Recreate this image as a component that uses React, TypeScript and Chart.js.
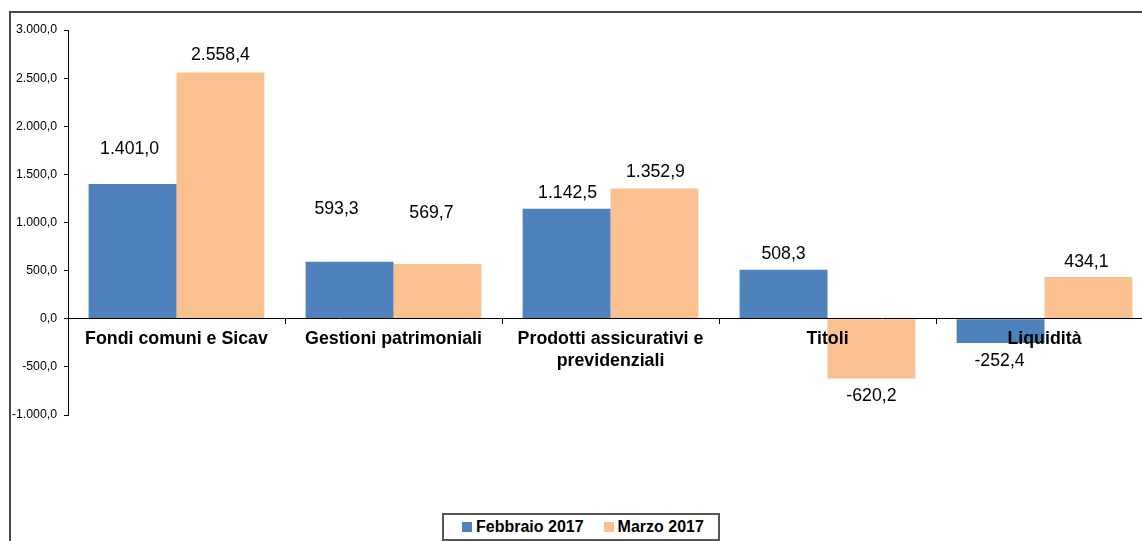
import React, { useEffect, useRef } from "react";
import { Chart, registerables } from "chart.js";

Chart.register(...registerables);

const FONT = '"Liberation Sans", Arial, Helvetica, sans-serif';

const categories: (string | string[])[] = [
  "Fondi comuni e Sicav",
  "Gestioni patrimoniali",
  ["Prodotti assicurativi e", "previdenziali"],
  "Titoli",
  "Liquidità",
];
const seriesNames = ["Febbraio 2017", "Marzo 2017"];
const febValues = [1401.0, 593.3, 1142.5, 508.3, -252.4];
const marValues = [2558.4, 569.7, 1352.9, -620.2, 434.1];
const seriesColors = ["#4F81BD", "#FAC090"];
const yMin = -1000;
const yMax = 3000;
const yStep = 500;

// small pixel nudges of each value label relative to the end of its bar [dx, dy]
const febLabelNudge = [
  [-3, -35],
  [-13, -53],
  [1, -16],
  [0, -16],
  [-1, 18],
];
const marLabelNudge = [
  [0, -17],
  [-6, -51],
  [1, -16.5],
  [0, 18],
  [-2, -15],
];

function fmt(v: number): string {
  const neg = v < 0;
  const fixed = Math.abs(v).toFixed(1);
  const [intPart, dec] = fixed.split(".");
  const grouped = intPart.replace(/\B(?=(\d{3})+(?!\d))/g, ".");
  return (neg ? "-" : "") + grouped + "," + dec;
}

const valueLabels = {
  id: "valueLabels",
  afterDatasetsDraw(chart: any) {
    const ctx = chart.ctx;
    ctx.save();
    ctx.font = `17.7px ${FONT}`;
    ctx.fillStyle = "#000";
    ctx.textAlign = "center";
    ctx.textBaseline = "middle";
    chart.data.datasets.forEach((ds: any, di: number) => {
      const meta = chart.getDatasetMeta(di);
      const nudges = di === 0 ? febLabelNudge : marLabelNudge;
      meta.data.forEach((el: any, i: number) => {
        const [dx, dy] = nudges[i];
        ctx.fillText(fmt(ds.data[i]), el.x + dx, el.y + dy);
      });
    });
    ctx.restore();
  },
};

export default function App() {
  const canvasRef = useRef<HTMLCanvasElement | null>(null);

  useEffect(() => {
    if (!canvasRef.current) return;
    const chart = new Chart(canvasRef.current, {
      type: "bar",
      data: {
        labels: categories,
        datasets: [
          {
            label: seriesNames[0],
            data: febValues,
            backgroundColor: seriesColors[0],
            borderWidth: 0,
            barPercentage: 1,
            categoryPercentage: 0.81,
          },
          {
            label: seriesNames[1],
            data: marValues,
            backgroundColor: seriesColors[1],
            borderWidth: 0,
            barPercentage: 1,
            categoryPercentage: 0.81,
          },
        ],
      },
      options: {
        responsive: false,
        animation: false,
        devicePixelRatio: 1,
        layout: { padding: { top: 30, right: 9, bottom: 126, left: 0 } },
        plugins: {
          legend: { display: false },
          tooltip: { enabled: false },
        },
        scales: {
          x: {
            type: "category",
            position: { y: 0 } as any,
            offset: true,
            grid: {
              offset: true,
              drawOnChartArea: false,
              drawTicks: true,
              tickLength: 5,
              color: "#000",
              lineWidth: 1,
              z: 1,
            },
            border: { display: true, color: "#000", width: 1, z: 1 },
            ticks: {
              z: 2,
              color: "#000",
              font: { family: FONT, size: 17.8, weight: "bold", lineHeight: 1.2 },
              padding: 5,
              autoSkip: false,
              maxRotation: 0,
              minRotation: 0,
            },
            afterFit: (s: any) => {
              s.height = 0;
            },
          },
          y: {
            min: yMin,
            max: yMax,
            position: "left",
            grid: {
              drawOnChartArea: false,
              drawTicks: true,
              tickLength: 4,
              color: "#000",
            },
            border: { display: true, color: "#000", width: 1 },
            ticks: {
              stepSize: yStep,
              color: "#000",
              font: { family: FONT, size: 12.3 },
              padding: 7,
              callback: (v: any) => fmt(Number(v)),
            },
            afterFit: (s: any) => {
              s.width = 68;
            },
          },
        },
      } as any,
      plugins: [valueLabels],
    });
    return () => chart.destroy();
  }, []);

  return (
    <div
      style={{
        position: "fixed",
        left: 0,
        top: 0,
        width: 1142,
        height: 541,
        overflow: "hidden",
        background: "#fff",
      }}
    >
      <div
        style={{
          position: "absolute",
          left: 9,
          top: 11,
          width: 1300,
          height: 700,
          borderTop: "2px solid #4a4a4a",
          borderLeft: "2px solid #4a4a4a",
          boxSizing: "border-box",
        }}
      />
      <canvas
        ref={canvasRef}
        width={1162}
        height={541}
        style={{ position: "absolute", left: 0, top: 0, width: 1162, height: 541 }}
      />
      <div
        style={{
          position: "absolute",
          left: 442,
          top: 513,
          width: 278,
          height: 28,
          boxSizing: "border-box",
          border: "2px solid #555",
          background: "#fff",
          display: "flex",
          alignItems: "center",
          paddingLeft: 18,
          fontFamily: FONT,
          fontWeight: "bold",
          fontSize: 16,
          color: "#000",
        }}
      >
        {seriesNames.map((name, i) => (
          <div
            key={name}
            style={{ display: "flex", alignItems: "center", marginRight: i === 0 ? 20 : 0 }}
          >
            <span
              style={{
                display: "inline-block",
                width: 10,
                height: 10,
                background: seriesColors[i],
                marginRight: 4,
              }}
            />
            <span style={{ lineHeight: "18px", whiteSpace: "nowrap" }}>{name}</span>
          </div>
        ))}
      </div>
    </div>
  );
}
